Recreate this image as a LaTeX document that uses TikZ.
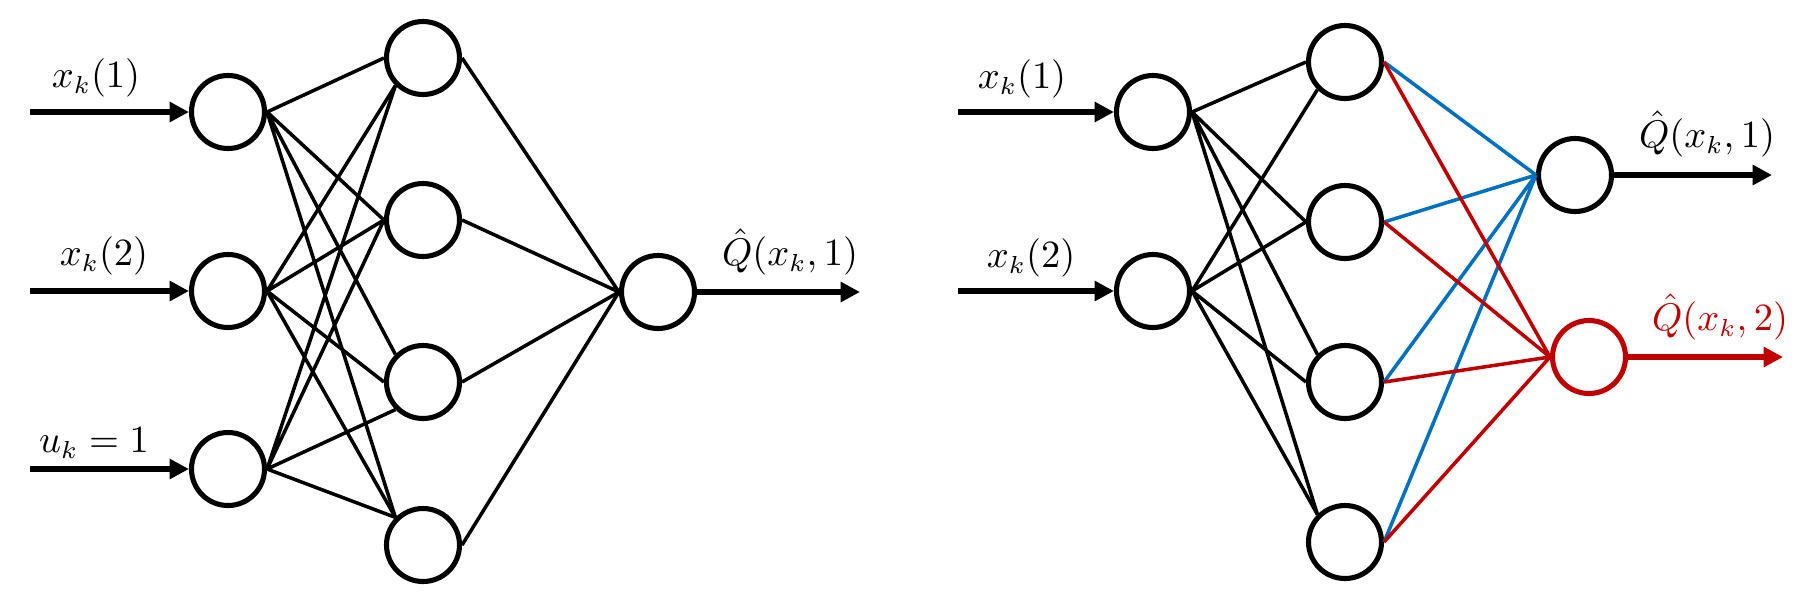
\documentclass[tikz,border=0pt]{standalone}
\usepackage{amsmath}
\usepackage{tikz}
\usetikzlibrary{arrows.meta,positioning}
\definecolor{qBlue}{HTML}{0070C0}
\definecolor{qRed}{HTML}{C00000}
\tikzset{
    % neurons and connections
    neuron/.style={circle,draw=black,line width=1.45pt,minimum size=7.3mm,inner sep=0pt,fill=white},
    link/.style={line width=1pt,black},
    blink/.style={line width=1pt,qBlue},
    rlink/.style={line width=1pt,qRed},
    signal/.style={-{Triangle[length=5.5pt,width=5.5pt]},line width=1.85pt},
    lbl/.style={font=\fontsize{10.5}{12}\selectfont,inner sep=0pt}
}

\begin{document}
\begin{tikzpicture}[x=0.1mm,y=-0.1mm]
\useasboundingbox (0,0) rectangle (1806,602);

% Left network: single output
\node[neuron] at (228,112) (li1) {};
\node[neuron] at (228,291) (li2) {};
\node[neuron] at (228,469) (li3) {};
\node[neuron] at (423,58) (lh1) {};
\node[neuron] at (423,220) (lh2) {};
\node[neuron] at (423,382) (lh3) {};
\node[neuron] at (423,545) (lh4) {};
\node[neuron] at (658,292) (lo) {};

\coordinate (ls1) at (30,112);
\coordinate (ls2) at (30,291);
\coordinate (ls3) at (30,469);
\coordinate (le) at (860,292);

\draw[signal] (ls1) -- (li1.west);
\draw[signal] (ls2) -- (li2.west);
\draw[signal] (ls3) -- (li3.west);
\draw[signal] (lo.east) -- (le);

\node[lbl] at (96,78) (lx1) {$x_k(1)$};
\node[lbl] at (104,256) (lx2) {$x_k(2)$};
\node[lbl] at (94,443) (lu) {$u_k = 1$};
\node[lbl] at (790,252) (lq) {$\hat{Q}(x_k,1)$};

% Input to hidden layer
\draw[link] (li1.east) -- (lh1.west) (li1.east) -- (lh2.west) (li1.east) -- (lh3.north west) (li1.east) -- (lh4.north west);
\draw[link] (li2.east) -- (lh1.south west) (li2.east) -- (lh2.west) (li2.east) -- (lh3.west) (li2.east) -- (lh4.north west);
\draw[link] (li3.east) -- (lh1.south west) (li3.east) -- (lh2.west) (li3.east) -- (lh3.south west) (li3.east) -- (lh4.north west);

% Hidden to output
\draw[link] (lh1.east) -- (lo.west) (lh2.east) -- (lo.west) (lh3.east) -- (lo.west) (lh4.east) -- (lo.west);

% Right network: one output per action
\node[neuron] at (1153,112) (ri1) {};
\node[neuron] at (1153,291) (ri2) {};
\node[neuron] at (1345,62) (rh1) {};
\node[neuron] at (1345,222) (rh2) {};
\node[neuron] at (1345,382) (rh3) {};
\node[neuron] at (1345,542) (rh4) {};
\node[neuron] at (1575,175) (ro1) {};
\node[neuron,draw=qRed] at (1589,357) (ro2) {};

\coordinate (rs1) at (958,112);
\coordinate (rs2) at (958,291);
\coordinate (re1) at (1772,175);
\coordinate (re2) at (1783,357);

\draw[signal] (rs1) -- (ri1.west);
\draw[signal] (rs2) -- (ri2.west);
\draw[signal] (ro1.east) -- (re1);
\draw[signal,qRed] (ro2.east) -- (re2);

\node[lbl] at (1022,79) (rx1) {$x_k(1)$};
\node[lbl] at (1031,258) (rx2) {$x_k(2)$};
\node[lbl] at (1707,134) (rq1) {$\hat{Q}(x_k,1)$};
\node[lbl,text=qRed] at (1720,317) (rq2) {$\hat{Q}(x_k,2)$};

\draw[link] (ri1.east) -- (rh1.west) (ri1.east) -- (rh2.west) (ri1.east) -- (rh3.north west) (ri1.east) -- (rh4.north west);
\draw[link] (ri2.east) -- (rh1.south west) (ri2.east) -- (rh2.west) (ri2.east) -- (rh3.west) (ri2.east) -- (rh4.north west);

% Hidden to outputs (blue to first, red to second)
\draw[blink] (rh1.east) -- (ro1.west) (rh2.east) -- (ro1.west) (rh3.east) -- (ro1.west) (rh4.east) -- (ro1.west);
\draw[rlink] (rh1.east) -- (ro2.west) (rh2.east) -- (ro2.west) (rh3.east) -- (ro2.west) (rh4.east) -- (ro2.west);

\end{tikzpicture}
\end{document}
